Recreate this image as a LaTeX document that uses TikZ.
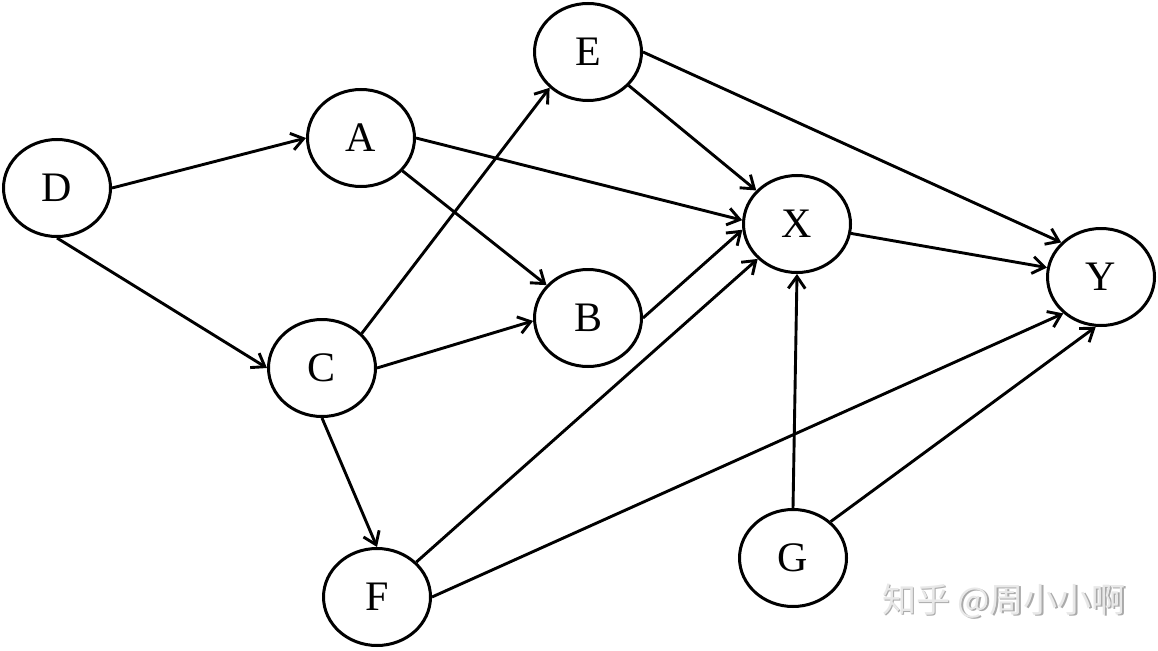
\documentclass[tikz,border=0pt]{standalone}
\usepackage{fontspec}
\setmainfont{Liberation Serif}
\newfontfamily\cjkfont{Noto Sans CJK SC}
\usetikzlibrary{shapes.geometric,arrows.meta}
\definecolor{wmlight}{RGB}{232,232,232}
\definecolor{wmdark}{RGB}{170,170,170}
\tikzset{
  var/.style={draw=black, line width=3pt, ellipse, inner sep=0pt,
    minimum width=107pt, minimum height=97pt,
    font=\fontsize{42}{42}\selectfont},
  edge/.style={line width=2.9pt, -{Straight Barb[length=12pt,width=17pt]}},
  wm/.style={font=\cjkfont\fontsize{34}{34}\selectfont}
}
\begin{document}
\begin{tikzpicture}[x=1pt,y=-1pt]
\useasboundingbox (0,0) rectangle (1158,650);
\node[var] (D) at (57,188) {D};
\node[var] (A) at (361,138) {A};
\node[var] (E) at (588,52) {E};
\node[var] (X) at (797,224) {X};
\node[var] (Y) at (1101,277) {Y};
\node[var] (B) at (588,318) {B};
\node[var] (C) at (322,368) {C};
\node[var] (F) at (377,597) {F};
\node[var] (G) at (793,558) {G};

\draw[edge] (D.east) -- (A.west);
\draw[edge] (D.south) -- (C.west);
\draw[edge] (A.east) -- (X.176);
\draw[edge] (A) -- (B);
\draw[edge] (C.41) -- (E.223);
\draw[edge] (C.east) -- (B.183);
\draw[edge] (C.south) -- (F.north);
\draw[edge] (E) -- (X);
\draw[edge] (E.east) -- (Y.139);
\draw[edge] (X) -- (Y);
\draw[edge] (B.east) -- (X.186);
\draw[edge] (F) -- (X);
\draw[edge] (F.east) -- (Y.224);
\draw[edge] (G.north) -- (X.south);
\draw[edge] (G.44) -- (Y.264);

\node[wm, text=wmdark] (wms) at (1005.5,602.5) {知乎 @周小小啊};
\node[wm, text=wmlight] (wm) at (1004,601) {知乎 @周小小啊};
\end{tikzpicture}
\end{document}
